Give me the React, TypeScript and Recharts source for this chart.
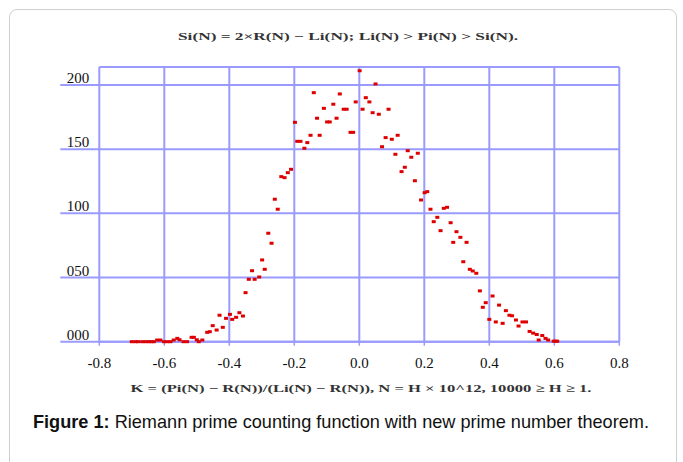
import { CartesianGrid, Scatter, ScatterChart, XAxis, YAxis } from "recharts";

// K = (Pi(N) - R(N)) / (Li(N) - R(N)) for each sample, and how many samples fall there
const kValues = [
  -0.7, -0.689, -0.681, -0.668, -0.657, -0.647, -0.64, -0.632, -0.622, -0.612,
  -0.601, -0.591, -0.581, -0.571, -0.56, -0.553, -0.541, -0.53, -0.516, -0.509,
  -0.5, -0.494, -0.483, -0.468, -0.46, -0.451, -0.439, -0.43, -0.42, -0.41,
  -0.398, -0.391, -0.379, -0.369, -0.358, -0.35, -0.34, -0.33, -0.322, -0.308,
  -0.299, -0.291, -0.28, -0.27, -0.26, -0.251, -0.24, -0.23, -0.22, -0.21,
  -0.198, -0.191, -0.181, -0.169, -0.16, -0.15, -0.14, -0.13, -0.122, -0.109,
  -0.099, -0.091, -0.08, -0.07, -0.06, -0.048, -0.039, -0.027, -0.019, -0.011,
  0.001, 0.01, 0.02, 0.031, 0.041, 0.05, 0.06, 0.07, 0.081, 0.09,
  0.1, 0.111, 0.118, 0.13, 0.14, 0.149, 0.16, 0.171, 0.18, 0.19,
  0.201, 0.209, 0.219, 0.229, 0.24, 0.25, 0.26, 0.27, 0.281, 0.289,
  0.299, 0.311, 0.32, 0.33, 0.34, 0.349, 0.36, 0.371, 0.38, 0.389,
  0.4, 0.41, 0.42, 0.43, 0.441, 0.451, 0.462, 0.47, 0.482, 0.49,
  0.502, 0.513, 0.524, 0.535, 0.546, 0.552, 0.563, 0.573, 0.581, 0.598,
  0.604, 0.609,
];

const counts = [
  0, 0, 0, 0, 0, 0, 0, 0, 1.3, 1.3,
  0, 0, 0, 1.3, 2.6, 1.5, 0, 0, 3.4, 3.4,
  1.5, 0, 1.3, 7.3, 7.8, 12.5, 9.1, 20.6, 11.2, 18.2,
  21.3, 17.4, 19.0, 22.6, 20.0, 38.2, 48.6, 55.3, 48.6, 50.4,
  63.7, 56.4, 84.5, 76.7, 111.0, 103.2, 128.6, 127.8, 131.7, 134.3,
  170.9, 156.1, 156.1, 150.7, 155.1, 160.8, 194.0, 174.1, 160.8, 181.8,
  171.2, 171.2, 185.0, 174.1, 193.0, 181.1, 181.1, 163.1, 163.1, 186.8,
  211.1, 181.1, 190.1, 186.8, 178.4, 200.8, 177.2, 151.9, 159.0, 181.1,
  157.7, 146.0, 160.8, 132.5, 135.9, 148.8, 143.7, 125.4, 146.8, 110.4,
  116.1, 116.9, 103.2, 93.5, 96.9, 86.5, 103.9, 104.7, 92.7, 77.4,
  85.7, 81.3, 62.3, 77.4, 56.4, 55.1, 53.3, 39.6, 26.8, 30.4,
  17.4, 35.6, 15.4, 28.5, 14.3, 24.2, 20.6, 20.2, 16.9, 12.2,
  15.4, 15.4, 8.0, 6.7, 5.6, 1.3, 4.8, 2.6, 1.3, 0.4,
  0.4, 0.4,
];

const xTicks = [-0.8, -0.6, -0.4, -0.2, 0, 0.2, 0.4, 0.6, 0.8];
const yTicks = [0, 50, 100, 150, 200];

const titleText = "Si(N) = 2×R(N) − Li(N); Li(N) > Pi(N) > Si(N).";
const axisText = "K = (Pi(N) − R(N))/(Li(N) − R(N)), N = H × 10^12, 10000 ≥ H ≥ 1.";
const captionBold = "Figure 1:";
const captionText = " Riemann prime counting function with new prime number theorem.";

const GRID = "#9a9aff";
const SERIF = "'Liberation Serif', 'Times New Roman', serif";

const points = kValues.map((k, i) => ({ k, n: counts[i] }));

function YTick(props: any) {
  const { x, y, payload } = props;
  return (
    <g>
      <line x1={x - 29} x2={x + 10} y1={y} y2={y} stroke={GRID} strokeWidth={2} />
      <text x={x} y={y - 2} textAnchor="end" fontFamily={SERIF} fontSize={15} fill="#111">
        {String(payload.value).padStart(3, "0")}
      </text>
    </g>
  );
}

function Dot(props: any) {
  const { cx, cy } = props;
  return <rect x={cx - 2} y={cy - 1.5} width={4} height={3} fill="#dd0000" />;
}

export default function App() {
  return (
    <div
      style={{
        position: "absolute",
        left: 0,
        top: 0,
        width: 683,
        height: 462,
        overflow: "hidden",
        background: "#ffffff",
      }}
    >
      <div
        style={{
          position: "absolute",
          left: 9,
          top: 9,
          width: 666,
          height: 480,
          border: "1px solid #cfcfcf",
          borderRadius: 8,
        }}
      />
      <div style={{ position: "absolute", left: 0, top: 0 }}>
        <ScatterChart
          width={683}
          height={462}
          margin={{ top: 67, right: 63.7, bottom: 90.3, left: 59.3 }}
        >
          <CartesianGrid stroke={GRID} strokeWidth={2} />
          <XAxis
            type="number"
            dataKey="k"
            domain={[-0.8, 0.8]}
            ticks={xTicks}
            interval={0}
            height={30}
            tickSize={4}
            tickMargin={12}
            tickFormatter={(v: number) => v.toFixed(1)}
            axisLine={{ stroke: GRID, strokeWidth: 2 }}
            tickLine={{ stroke: GRID, strokeWidth: 1.5 }}
            tick={{ fontFamily: SERIF, fontSize: 15, fill: "#111" }}
          />
          <YAxis
            type="number"
            dataKey="n"
            domain={[0, 214]}
            ticks={yTicks}
            interval={0}
            width={40}
            tickSize={0}
            tickMargin={10}
            axisLine={false}
            tickLine={false}
            tick={<YTick />}
          />
          <Scatter data={points} shape={<Dot />} isAnimationActive={false} />
        </ScatterChart>
      </div>
      <svg
        width={683}
        height={462}
        style={{ position: "absolute", left: 0, top: 0, pointerEvents: "none" }}
      >
        <text
          x={348}
          y={40}
          textAnchor="middle"
          textLength={340}
          lengthAdjust="spacingAndGlyphs"
          fontFamily={SERIF}
          fontSize={10}
          fontWeight="bold"
          fill="#333"
        >
          {titleText}
        </text>
        <text
          x={361}
          y={392}
          textAnchor="middle"
          textLength={461}
          lengthAdjust="spacingAndGlyphs"
          fontFamily={SERIF}
          fontSize={11}
          fontWeight="bold"
          fill="#333"
        >
          {axisText}
        </text>
        <text
          x={33}
          y={428}
          textLength={616}
          lengthAdjust="spacingAndGlyphs"
          fontFamily="'Liberation Sans', Arial, sans-serif"
          fontSize={19}
          fill="#111"
        >
          <tspan fontWeight="bold">{captionBold}</tspan>
          {captionText}
        </text>
      </svg>
    </div>
  );
}
